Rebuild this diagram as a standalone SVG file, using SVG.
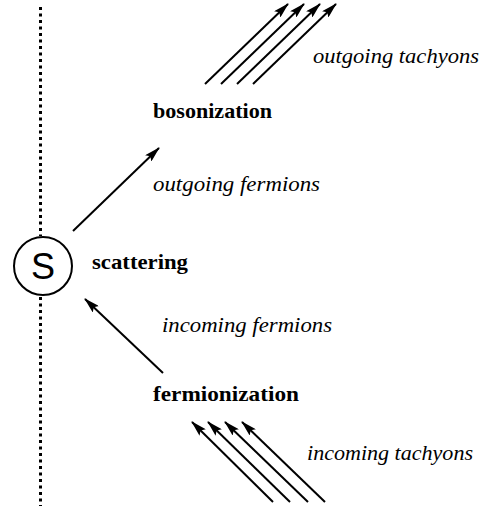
<svg xmlns="http://www.w3.org/2000/svg" width="481" height="509" viewBox="0 0 481 509">
<style>
.ln{stroke:#000;stroke-width:2;fill:none;marker-end:url(#ah)}
.dot{stroke:#000;stroke-width:3;stroke-dasharray:3 3.5;fill:none}
.b{font-family:"Liberation Serif",serif;font-weight:bold;font-size:22px;fill:#000}
.i{font-family:"Liberation Serif",serif;font-style:italic;font-size:22px;fill:#000}
</style>
<defs>
<marker id="ah" viewBox="0 0 16 9" refX="15" refY="4.5" markerWidth="16" markerHeight="9" markerUnits="userSpaceOnUse" orient="auto">
<path d="M0,0 L16,4.5 L0,9 L3,4.5 Z" fill="#000"/>
</marker>
</defs>
<g id="axis">
<line class="dot" x1="40.5" y1="7" x2="40.5" y2="236"/>
<line class="dot" x1="40.5" y1="297" x2="40.5" y2="506"/>
</g>
<g id="S">
<circle cx="43" cy="266" r="29" fill="#fff" stroke="#000" stroke-width="2"/>
<text x="43" y="279" text-anchor="middle" font-family="Liberation Sans,Arial,sans-serif" font-size="36">S</text>
</g>
<g id="scattering"><text class="b" x="92" y="269" textLength="96" lengthAdjust="spacingAndGlyphs">scattering</text></g>
<g id="bosonization"><text class="b" x="153" y="118" textLength="119" lengthAdjust="spacingAndGlyphs">bosonization</text></g>
<g id="fermionization"><text class="b" x="153" y="401" textLength="146" lengthAdjust="spacingAndGlyphs">fermionization</text></g>
<g id="labels">
<text class="i" x="313" y="63" textLength="166" lengthAdjust="spacingAndGlyphs">outgoing tachyons</text>
<text class="i" x="153" y="191" textLength="167" lengthAdjust="spacingAndGlyphs">outgoing fermions</text>
<text class="i" x="162" y="332" textLength="170" lengthAdjust="spacingAndGlyphs">incoming fermions</text>
<text class="i" x="307" y="460" textLength="166" lengthAdjust="spacingAndGlyphs">incoming tachyons</text>
</g>
<g id="connectors">
<line class="ln" x1="73" y1="231" x2="159" y2="148"/>
<line class="ln" x1="163" y1="373" x2="85" y2="299"/>
<line class="ln" x1="205" y1="84" x2="288" y2="4"/>
<line class="ln" x1="221" y1="84" x2="304" y2="4"/>
<line class="ln" x1="237" y1="84" x2="320" y2="4"/>
<line class="ln" x1="253" y1="84" x2="336" y2="4"/>
<line class="ln" x1="273" y1="502" x2="192" y2="422"/>
<line class="ln" x1="290" y1="502" x2="208" y2="422"/>
<line class="ln" x1="308" y1="502" x2="225" y2="422"/>
<line class="ln" x1="325" y1="502" x2="242" y2="422"/>
</g>
</svg>
